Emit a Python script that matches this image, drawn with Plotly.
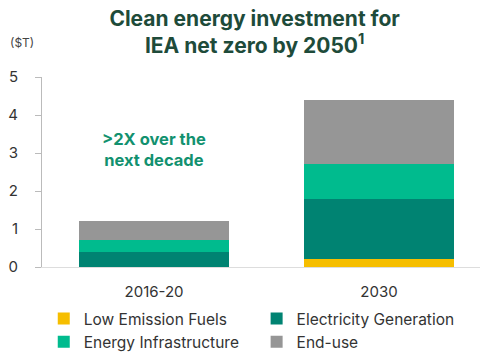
import plotly.graph_objects as go

categories = ["2016-20", "2030"]
low_emission_fuels = [0.0, 0.2]
electricity_generation = [0.4, 1.6]
energy_infrastructure = [0.3, 0.9]
end_use = [0.5, 1.7]
y_ticks = [0, 1, 2, 3, 4, 5]

FONT = "Inter"
series = [
    ("Low Emission Fuels", low_emission_fuels, "#F6BE00", "legend"),
    ("Electricity Generation", electricity_generation, "#008372", "legend2"),
    ("Energy Infrastructure", energy_infrastructure, "#00BB8E", "legend"),
    ("End-use", end_use, "#969696", "legend2"),
]

fig = go.Figure()
for name, vals, color, lg in series:
    fig.add_trace(go.Bar(
        x=categories, y=vals, name=name, marker=dict(color=color, line=dict(width=0)),
        width=0.667, legend=lg, legendgroup=name,
    ))

legend_common = dict(yanchor="top", xanchor="left", orientation="v",
                     font=dict(size=15.5, color="#333333"), traceorder="normal",
                     tracegroupgap=3, itemwidth=30, bgcolor="rgba(0,0,0,0)")

fig.update_layout(
    barmode="stack",
    width=486, height=356,
    margin=dict(l=42, r=6, t=77, b=89, autoexpand=False),
    paper_bgcolor="white", plot_bgcolor="white",
    font=dict(family=FONT, color="#333333", size=14),
    showlegend=True,
    legend=dict(x=0.004, y=-0.184, **legend_common),
    legend2=dict(x=0.49, y=-0.184, **legend_common),
    xaxis=dict(range=[-0.498, 1.449], showline=True, linecolor="#DDDDDD", linewidth=1,
               ticks="", showgrid=False, tickfont=dict(size=15, color="#333333"),
               ticklabelstandoff=11),
    yaxis=dict(range=[0, 5], tickvals=y_ticks, showline=True, linecolor="#BBBBBB", linewidth=1,
               ticks="outside", ticklen=6, tickcolor="#BBBBBB", showgrid=False, zeroline=False,
               tickfont=dict(size=15, color="#333333"), ticklabelstandoff=14),
    title=dict(text="Clean energy investment for<br>IEA net zero by 2050<sup>1</sup>",
               x=0.524, xanchor="center", yref="container", y=0.927, yanchor="middle",
               font=dict(family=FONT, size=21, color="#1E4B3A", weight="bold")),
    annotations=[
        dict(text="($T)", xref="paper", yref="paper", x=-0.046, y=1.179, xanchor="center",
             yanchor="middle", showarrow=False, font=dict(size=12, color="#444444")),
        dict(text=">2X over the<br>next decade", xref="x", yref="y", x=0.0, y=3.1,
             xanchor="center", yanchor="middle", showarrow=False,
             font=dict(size=16.5, color="#12916F", weight="bold")),
    ],
)
fig.write_html("out.html")
